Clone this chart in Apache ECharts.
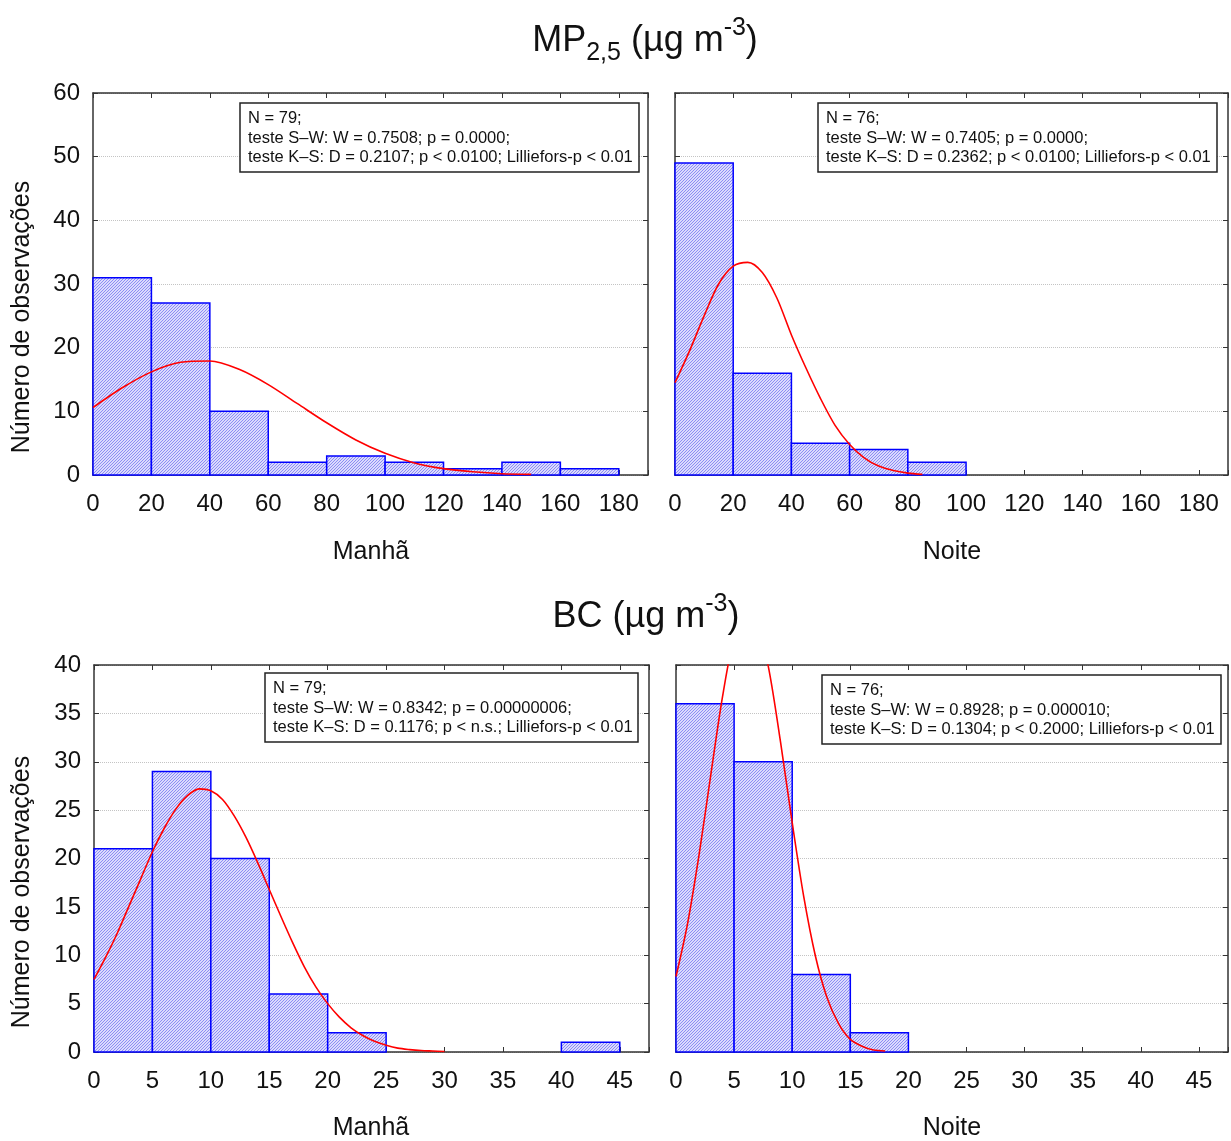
<!DOCTYPE html>
<html>
<head>
<meta charset="utf-8">
<script src="https://cdn.jsdelivr.net/npm/echarts@6/dist/echarts.min.js"></script>
<style>
  html, body { margin: 0; padding: 0; background: #ffffff; }
  #chart { width: 1231px; height: 1141px; }
</style>
</head>
<body>
<div id="chart"></div>
<script>
// ---- Histogram bins (left edges) ----
const mpBinStart = [0, 20, 40, 60, 80, 100, 120, 140, 160];
const mpBinWidth = 20;
const bcBinStart = [0, 5, 10, 15, 20, 25, 30, 35, 40];
const bcBinWidth = 5;

// ---- Observation counts per bin ----
const mpManhaCounts = [31, 27, 10, 2, 3, 2, 1, 2, 1];
const mpNoiteCounts = [49, 16, 5, 4, 2, 0, 0, 0, 0];
const bcManhaCounts = [21, 29, 20, 6, 2, 0, 0, 0, 1];
const bcNoiteCounts = [36, 30, 8, 2, 0, 0, 0, 0, 0];

// ---- Fitted normal curves (expected observations per bin) ----
const mpManhaCurveX = [0, 10, 20, 30, 40, 50, 60, 70, 80, 90, 100, 110, 120, 130, 140, 150];
const mpManhaCurveY = [10.6, 13.7, 16.2, 17.7, 17.9, 16.6, 14.2, 11.2, 8.2, 5.5, 3.4, 1.9, 1.0, 0.5, 0.2, 0.1];

const mpNoiteCurveX = [0, 5, 10, 15, 20, 25, 30, 35, 40, 45, 50, 55, 60, 65, 70, 75, 80, 85];
const mpNoiteCurveY = [14.5, 19.5, 25.0, 30.0, 32.8, 33.4, 31.8, 27.8, 22.0, 16.8, 12.0, 7.8, 4.8, 2.7, 1.4, 0.7, 0.3, 0.1];

const bcManhaCurveX = [0, 1, 2, 3, 4, 5, 6, 7, 8, 9, 10, 11, 12, 13, 14, 15, 16, 17, 18, 19, 20, 21, 22, 23, 24, 25, 26, 27, 28, 29, 30];
const bcManhaCurveY = [7.5, 9.8, 12.3, 15.1, 17.9, 20.7, 23.1, 25.1, 26.5, 27.2, 27.0, 26.1, 24.4, 22.2, 19.6, 16.8, 14.0, 11.3, 8.8, 6.7, 5.0, 3.6, 2.5, 1.7, 1.1, 0.7, 0.4, 0.25, 0.15, 0.1, 0.05];

const bcNoiteCurveX = [0, 1, 2, 3, 4, 5, 6, 7, 8, 9, 10, 11, 12, 13, 14, 15, 16, 17, 18];
const bcNoiteCurveY = [7.8, 13.3, 20.5, 28.7, 36.7, 42.9, 45.7, 44.5, 39.5, 32.0, 23.7, 16.0, 9.9, 5.6, 2.9, 1.3, 0.6, 0.2, 0.1];

// ---- Texts ----
const titleMP = ['MP', '2,5', ' (µg m', '-3', ')'];
const titleBC = ['BC', ' (µg m', '-3', ')'];
const xNames = ['Manhã', 'Noite', 'Manhã', 'Noite'];
const yName = 'Número de observações';
const statsTexts = [
  ['N = 79;', 'teste S–W: W = 0.7508; p = 0.0000;', 'teste K–S: D = 0.2107; p < 0.0100; Lilliefors-p < 0.01'],
  ['N = 76;', 'teste S–W: W = 0.7405; p = 0.0000;', 'teste K–S: D = 0.2362; p < 0.0100; Lilliefors-p < 0.01'],
  ['N = 79;', 'teste S–W: W = 0.8342; p = 0.00000006;', 'teste K–S: D = 0.1176; p < n.s.; Lilliefors-p < 0.01'],
  ['N = 76;', 'teste S–W: W = 0.8928; p = 0.000010;', 'teste K–S: D = 0.1304; p < 0.2000; Lilliefors-p < 0.01']
];

const FONT = '"Liberation Sans", Arial, Helvetica, sans-serif';
const FRAME = '#333333';

// Diagonal hatch used to fill the bars
function makeHatch() {
  const s = 3;
  const c = document.createElement('canvas');
  c.width = s; c.height = s;
  const g = c.getContext('2d');
  g.fillStyle = '#dadafd';
  g.fillRect(0, 0, s, s);
  g.fillStyle = '#8c8cf3';
  for (let i = 0; i < s; i++) g.fillRect(i, s - 1 - i, 1, 1);
  return c;
}
const hatch = makeHatch();

const panels = [
  { grid: { left: 93, top: 93, width: 555, height: 382 }, xMax: 190, xInt: 20, yMax: 60, yInt: 10, yLabels: true,
    starts: mpBinStart, width: mpBinWidth, counts: mpManhaCounts, cx: mpManhaCurveX, cy: mpManhaCurveY,
    box: { left: 240, top: 103 }, xName: { x: 371, y: 552 } },
  { grid: { left: 675, top: 93, width: 553, height: 382 }, xMax: 190, xInt: 20, yMax: 60, yInt: 10, yLabels: false,
    starts: mpBinStart, width: mpBinWidth, counts: mpNoiteCounts, cx: mpNoiteCurveX, cy: mpNoiteCurveY,
    box: { left: 818, top: 103 }, xName: { x: 952, y: 552 } },
  { grid: { left: 94, top: 665, width: 555, height: 387 }, xMax: 47.5, xInt: 5, yMax: 40, yInt: 5, yLabels: true,
    starts: bcBinStart, width: bcBinWidth, counts: bcManhaCounts, cx: bcManhaCurveX, cy: bcManhaCurveY,
    box: { left: 265, top: 673 }, xName: { x: 371, y: 1128 } },
  { grid: { left: 676, top: 665, width: 552, height: 387 }, xMax: 47.5, xInt: 5, yMax: 40, yInt: 5, yLabels: false,
    starts: bcBinStart, width: bcBinWidth, counts: bcNoiteCounts, cx: bcNoiteCurveX, cy: bcNoiteCurveY,
    box: { left: 822, top: 675 }, xName: { x: 952, y: 1128 } }
];

const grids = [], xAxes = [], yAxes = [], series = [], titles = [], graphics = [];

const axisLine = { show: true, onZero: false, lineStyle: { color: FRAME, width: 1.5 } };
const axisTick = { show: true, inside: true, length: 5, lineStyle: { color: FRAME, width: 1 } };

panels.forEach((p, i) => {
  grids.push(Object.assign({ containLabel: false }, p.grid));

  xAxes.push({
    gridIndex: i, type: 'value', position: 'bottom', min: 0, max: p.xMax, interval: p.xInt,
    axisLine, axisTick,
    axisLabel: { fontSize: 24, color: '#111', fontFamily: FONT, margin: 17,
      formatter: v => (Math.abs(v % p.xInt) < 1e-9 ? String(v) : '') },
    splitLine: { show: false }
  });
  xAxes.push({
    gridIndex: i, type: 'value', position: 'top', min: 0, max: p.xMax, interval: p.xInt,
    axisLine, axisTick, axisLabel: { show: false }, splitLine: { show: false }
  });
  yAxes.push({
    gridIndex: i, type: 'value', position: 'left', min: 0, max: p.yMax, interval: p.yInt,
    axisLine, axisTick,
    axisLabel: { show: p.yLabels, fontSize: 24, color: '#111', fontFamily: FONT, margin: 13 },
    splitLine: { show: true, lineStyle: { type: 'dotted', color: '#c4c4c4', width: 1 } }
  });
  yAxes.push({
    gridIndex: i, type: 'value', position: 'right', min: 0, max: p.yMax, interval: p.yInt,
    axisLine, axisTick, axisLabel: { show: false }, splitLine: { show: false }
  });

  const bins = p.starts.map((s, k) => [s, s + p.width, p.counts[k]]).filter(d => d[2] > 0);
  series.push({
    type: 'custom',
    xAxisIndex: 2 * i, yAxisIndex: 2 * i,
    data: bins,
    encode: { x: [0, 1], y: 2 },
    z: 2,
    renderItem: (params, api) => {
      const a = api.coord([api.value(0), api.value(2)]);
      const b = api.coord([api.value(1), 0]);
      return {
        type: 'rect',
        shape: { x: a[0], y: a[1], width: b[0] - a[0], height: b[1] - a[1] },
        style: { fill: { image: hatch, repeat: 'repeat' }, stroke: '#0000ff', lineWidth: 1.5 }
      };
    }
  });
  series.push({
    type: 'line',
    xAxisIndex: 2 * i, yAxisIndex: 2 * i,
    data: p.cx.map((x, k) => [x, p.cy[k]]),
    smooth: 0.3,
    showSymbol: false,
    clip: true,
    z: 3,
    lineStyle: { color: '#ff0000', width: 1.6 }
  });

  titles.push({
    left: p.box.left, top: p.box.top,
    text: statsTexts[i].join('\n'),
    backgroundColor: '#ffffff',
    borderColor: '#222222', borderWidth: 1.5,
    padding: [6, 6, 5, 8],
    textStyle: { fontSize: 16.5, fontWeight: 'normal', color: '#111', fontFamily: FONT, lineHeight: 19.5 }
  });

  graphics.push({
    type: 'text', x: p.xName.x, y: p.xName.y,
    style: { text: xNames[i], font: '25px ' + FONT, fill: '#111', textAlign: 'center', textVerticalAlign: 'middle' }
  });
});

// y-axis names
[317, 892].forEach(cy => {
  graphics.push({
    type: 'text', x: 22, y: cy, rotation: Math.PI / 2,
    style: { text: yName, font: '25px ' + FONT, fill: '#111', textAlign: 'center', textVerticalAlign: 'middle' }
  });
});

// Main titles with sub/superscripts
const titleRich = {
  a: { fontSize: 36, fontWeight: 'normal', color: '#111', fontFamily: FONT, lineHeight: 50 },
  sub: { fontSize: 25, fontWeight: 'normal', color: '#111', fontFamily: FONT, lineHeight: 22, verticalAlign: 'bottom' },
  sup: { fontSize: 25, fontWeight: 'normal', color: '#111', fontFamily: FONT, lineHeight: 22, verticalAlign: 'top' }
};
titles.push({
  left: 640, top: 11, textAlign: 'center',
  text: `{a|${titleMP[0]}}{sub|${titleMP[1]}}{a|${titleMP[2]}}{sup|${titleMP[3]}}{a|${titleMP[4]}}`,
  textStyle: { fontWeight: 'normal', rich: titleRich }
});
titles.push({
  left: 641, top: 587, textAlign: 'center',
  text: `{a|${titleBC[0]}}{a|${titleBC[1]}}{sup|${titleBC[2]}}{a|${titleBC[3]}}`,
  textStyle: { fontWeight: 'normal', rich: titleRich }
});

const chart = echarts.init(document.getElementById('chart'), null, { renderer: 'canvas' });
chart.setOption({
  backgroundColor: '#ffffff',
  animation: false,
  title: titles,
  grid: grids,
  xAxis: xAxes,
  yAxis: yAxes,
  series: series,
  graphic: graphics
});
</script>
</body>
</html>
